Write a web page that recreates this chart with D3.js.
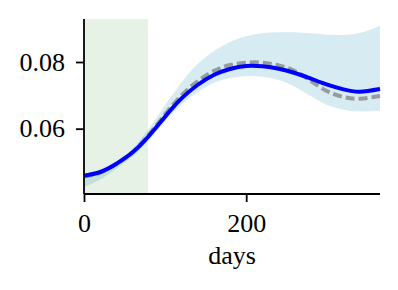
<!DOCTYPE html>
<html>
<head>
<meta charset="utf-8">
<script src="https://cdn.jsdelivr.net/npm/d3@7"></script>
<style>
	body { margin: 0; background: #fff; }
	text { font-family: "Liberation Serif", serif; fill: #000; }
</style>
</head>
<body>
<div id="chart"></div>
<script>
// days since start
var days = [0, 20, 40, 60, 80, 100, 120, 140, 160, 180, 200, 220, 240, 260, 280, 300, 320, 340, 365]
// model prediction (blue)
var predicted = [0.0459, 0.0470, 0.0495, 0.0529, 0.0578, 0.0636, 0.0690, 0.0731, 0.0761, 0.0779, 0.0788, 0.0787, 0.0780, 0.0767, 0.0750, 0.0732, 0.0718, 0.0711, 0.0719]
// reference curve (gray dashed)
var actual = [0.0457, 0.0468, 0.0494, 0.0530, 0.0582, 0.0643, 0.0699, 0.0742, 0.0773, 0.0791, 0.0798, 0.0798, 0.0790, 0.0773, 0.0743, 0.0712, 0.0695, 0.0690, 0.0698]
// uncertainty band
var upper = [0.0463, 0.0474, 0.0500, 0.0540, 0.0600, 0.0670, 0.0738, 0.0793, 0.0832, 0.0860, 0.0877, 0.0886, 0.0889, 0.0889, 0.0886, 0.0882, 0.0881, 0.0887, 0.0908]
var lower = [0.0424, 0.0448, 0.0480, 0.0517, 0.0565, 0.0622, 0.0672, 0.0710, 0.0737, 0.0752, 0.0758, 0.0756, 0.0746, 0.0726, 0.0697, 0.0671, 0.0657, 0.0652, 0.0654]
// shaded window (days)
var windowDays = [0, 79]

var xTicks = [0, 200]
var yTicks = [0.06, 0.08]

var w = 398
var h = 290
var bounds = { left: 84, right: 380, top: 19, bottom: 194 }

var svg = d3.select("#chart").append("svg")
	.attr("width", w)
	.attr("height", h)

var x = d3.scaleLinear().domain([0, 365]).range([bounds.left, bounds.right])
var y = d3.scaleLinear().domain([0.0404, 0.0929]).range([bounds.bottom, bounds.top])

var rows = days.map((d, i) => ({ day: d, pred: predicted[i], act: actual[i], hi: upper[i], lo: lower[i] }))
var curve = d3.curveNatural

// band
svg.append("path")
	.datum(rows)
	.attr("d", d3.area().curve(curve)
		.x(d => x(d.day)).y0(d => y(d.lo)).y1(d => y(d.hi)))
	.attr("fill", "#add8e6")
	.attr("fill-opacity", 0.5)

// shaded window
svg.append("rect")
	.attr("x", x(windowDays[0]))
	.attr("y", bounds.top)
	.attr("width", x(windowDays[1]) - x(windowDays[0]))
	.attr("height", bounds.bottom - bounds.top)
	.attr("fill", "green")
	.attr("fill-opacity", 0.1)

var line = key => d3.line().curve(curve).x(d => x(d.day)).y(d => y(d[key]))

svg.append("path")
	.datum(rows)
	.attr("d", line("act"))
	.attr("fill", "none")
	.attr("stroke", "gray")
	.attr("stroke-opacity", 0.75)
	.attr("stroke-width", 4)
	.attr("stroke-dasharray", "9,4")

svg.append("path")
	.datum(rows)
	.attr("d", line("pred"))
	.attr("fill", "none")
	.attr("stroke", "#0000ff")
	.attr("stroke-width", 4)

// axes
var xAxis = svg.append("g")
	.attr("transform", "translate(0," + bounds.bottom + ")")
	.call(d3.axisBottom(x).tickValues(xTicks).tickSize(8).tickPadding(12).tickFormat(d3.format("d")))

var yAxis = svg.append("g")
	.attr("transform", "translate(" + bounds.left + ",0)")
	.call(d3.axisLeft(y).tickValues(yTicks).tickSize(8).tickPadding(11).tickFormat(d3.format(".2f")))

svg.selectAll(".domain").attr("stroke-width", 1.8)
xAxis.select(".domain").attr("d", "M" + bounds.left + ",0H" + bounds.right)
yAxis.select(".domain").attr("d", "M0," + bounds.top + "V" + bounds.bottom)
svg.selectAll(".tick line").attr("stroke-width", 1.8)
svg.selectAll(".tick text").style("font-size", "26px").style("font-family", "Liberation Serif, serif")

svg.append("text")
	.attr("x", (bounds.left + bounds.right) / 2)
	.attr("y", 264)
	.style("text-anchor", "middle")
	.style("font-size", "26px")
	.text("days")
</script>
</body>
</html>
